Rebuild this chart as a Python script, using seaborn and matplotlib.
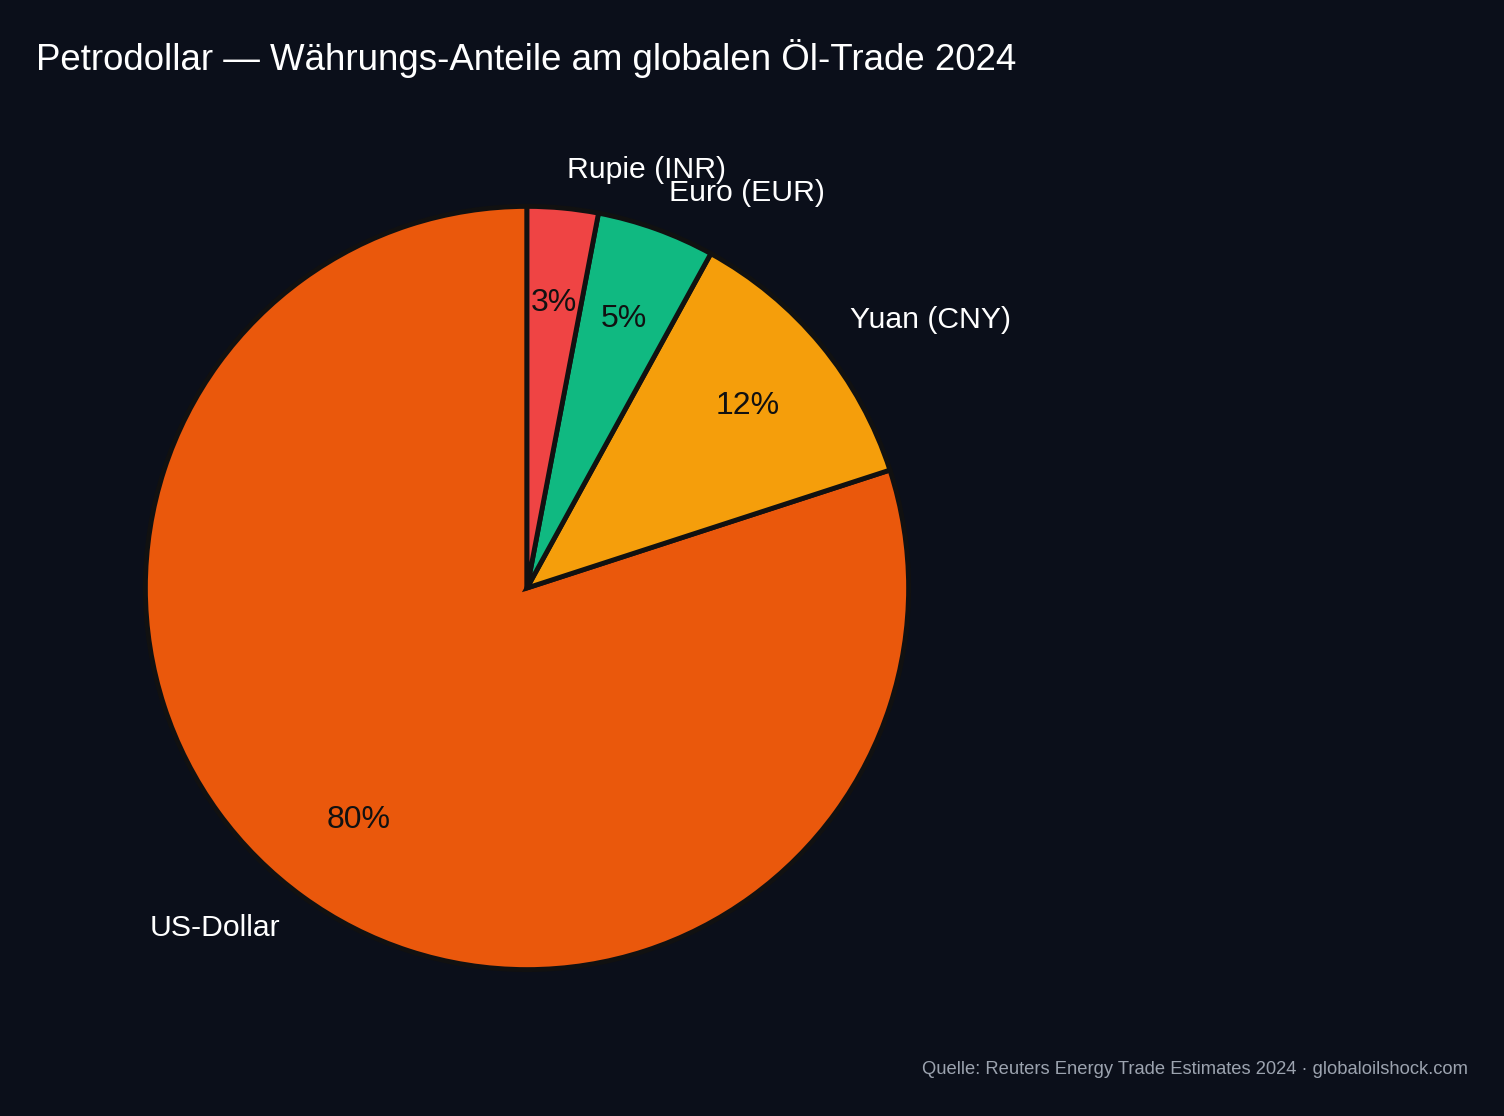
import matplotlib
matplotlib.use("Agg")
import matplotlib.pyplot as plt
import seaborn as sns

categories = ["US-Dollar", "Yuan (CNY)", "Euro (EUR)", "Rupie (INR)"]
shares = [80, 12, 5, 3]
colors = ["#ea580c", "#f59e0b", "#10b981", "#ef4444"]
title = "Petrodollar — Währungs-Anteile am globalen Öl-Trade 2024"
source = "Quelle: Reuters Energy Trade Estimates 2024 · globaloilshock.com"

bg = "#0b0f1a"
sns.set_theme(style="dark")
plt.rcParams["font.family"] = ["Liberation Sans", "DejaVu Sans"]

fig = plt.figure(figsize=(15.04, 11.16), dpi=100, facecolor=bg)
size = 954
cx, cy = 527, 588
ax = fig.add_axes([(cx - size / 2) / 1504, (1116 - cy - size / 2) / 1116,
                   size / 1504, size / 1116])
ax.set_facecolor(bg)

wedges, texts, autotexts = ax.pie(
    shares,
    labels=categories,
    colors=colors,
    startangle=90,
    autopct="%1.0f%%",
    pctdistance=0.75,
    labeldistance=1.1,
    wedgeprops=dict(edgecolor="#111111", linewidth=3.5),
    textprops=dict(fontsize=21.7),
)
for t in texts:
    t.set_color("white")
for t in autotexts:
    t.set_color("#111111")
    t.set_fontsize(23)
ax.set_xlim(-1.25, 1.25)
ax.set_ylim(-1.25, 1.25)
ax.set_aspect("equal")

fig.text(36 / 1504, 1 - 58 / 1116, title, color="white", fontsize=26.4,
         ha="left", va="center")
fig.text(1468 / 1504, 1 - 1070 / 1116, source, color="#9ca3af", fontsize=13.2,
         ha="right", va="center")

fig.savefig("out.png", dpi=100, facecolor=bg)
